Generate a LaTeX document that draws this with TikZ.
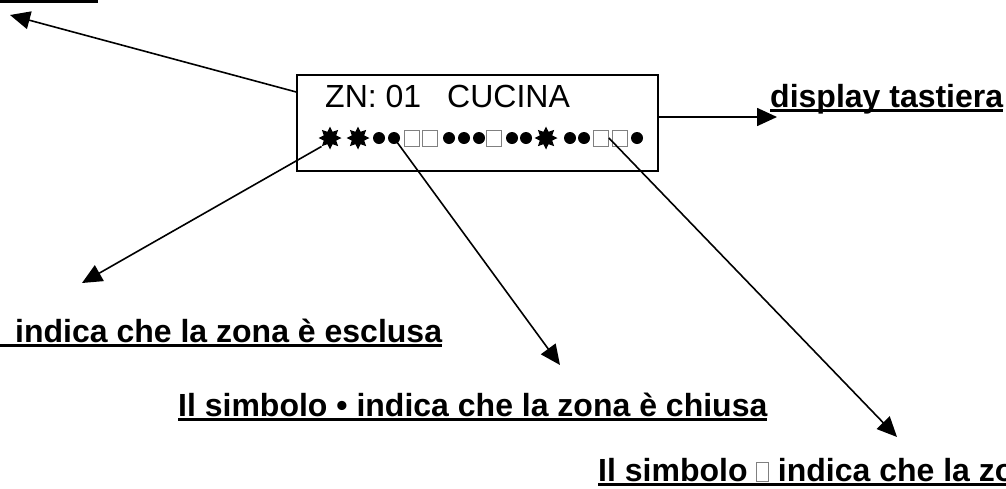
\documentclass[tikz,border=0pt]{standalone}
\usepackage{fontspec}
\setmainfont{Liberation Sans}
\usetikzlibrary{arrows.meta,shapes.geometric}

\newsavebox\ulbox
\newcommand{\ultext}[1]{\sbox\ulbox{#1}\rlap{\rule[-5pt]{\wd\ulbox}{3pt}}\usebox\ulbox}
\newcommand{\sqsym}{{\color{gray}\setlength\fboxrule{0.8pt}\setlength\fboxsep{0pt}\fbox{\rule{0pt}{18pt}\hspace{11pt}}}}

\begin{document}
\begin{tikzpicture}[x=1pt,y=-1pt,
    lbl/.style={font=\bfseries\fontsize{#1}{36}\selectfont,inner sep=0,anchor=base west},
    conn/.style={line width=1.6pt,-{Triangle[length=20pt,width=18pt]}},
    dot/.style={circle,fill,minimum size=12pt,inner sep=0},
    sq/.style={draw=gray,line width=0.8pt,minimum width=15pt,minimum height=16pt,inner sep=0},
    st/.style={star,star points=8,star point ratio=1.7,fill,minimum size=23pt,inner sep=0}]
  \useasboundingbox (0,0) rectangle (1006,488);
  % display
  \node[draw,line width=1.5pt,minimum width=361pt,minimum height=96pt,inner sep=0] (display) at (477.5,123) {};
  \node[font=\fontsize{32}{38}\selectfont,inner sep=0,anchor=base west] (zona) at (325,107) {ZN: 01\hspace{26pt}CUCINA};
  \foreach \k/\x [count=\i] in {st/330,st/358,dot/379,dot/394,sq/412,sq/430,dot/449,dot/464,dot/479,sq/494,dot/512,dot/526,st/546,dot/570,dot/584,sq/601,sq/620,dot/637}
    \node[\k] (s\i) at (\x,138) {};
  % labels
  \node[lbl=32] (tastiera) at (770,107) {\ultext{display tastiera}};
  \node[lbl=32] (esclusa) at (0,342) {\ultext{\hspace*{15pt}indica che la zona è esclusa}};
  \node[lbl=32] (chiusa) at (178,416) {\ultext{Il simbolo • indica che la zona è chiusa}};
  \node[lbl=32] (aperta) at (598,481) {\ultext{Il simbolo \sqsym{} indica che la zo}};
  \draw[line width=3.5pt] (0,1.5) -- (98,1.5);
  % arrow ends
  \coordinate (tl) at (10,15);
  \coordinate (tr) at (777,117);
  \coordinate (tst) at (82,283);
  \coordinate (tdot) at (560,365);
  \coordinate (tsq) at (897,437);
  \draw[conn] ([yshift=31pt]display.west) -- (tl);
  \draw[conn] ([yshift=6pt]display.east) -- (tr);
  \draw[conn] (s1.south west) -- (tst);
  \draw[conn] (s4.center) -- (tdot);
  \draw[conn] (s16.east) -- (tsq);
\end{tikzpicture}
\end{document}
